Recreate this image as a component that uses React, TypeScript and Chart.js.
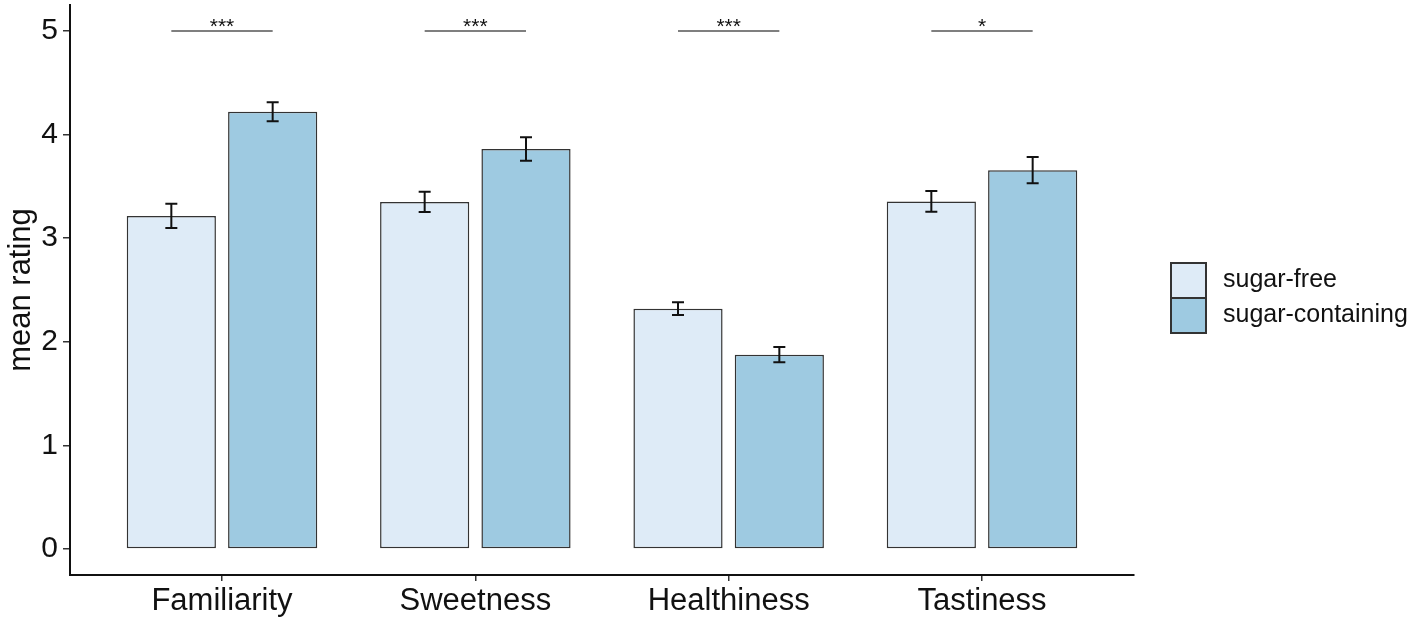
import React, { useEffect, useRef } from 'react';
import { Chart, registerables } from 'chart.js';

Chart.register(...registerables);

const categories = ['Familiarity', 'Sweetness', 'Healthiness', 'Tastiness'];
const categoryPositions = [1, 2, 3, 4];
const seriesLabels = ['sugar-free', 'sugar-containing'];
const seriesColors = ['#deebf7', '#9ecae1'];
const sugarFree = [3.215, 3.35, 2.32, 3.355];
const sugarFreeSE = [0.117, 0.098, 0.061, 0.101];
const sugarContaining = [4.22, 3.86, 1.876, 3.656];
const sugarContainingSE = [0.092, 0.114, 0.074, 0.127];
const significance = ['***', '***', '***', '*'];
const significanceLevel = 5;
const yTicks = [0, 1, 2, 3, 4, 5];

const FONT = '"Liberation Sans", Arial, Helvetica, sans-serif';
const TEXT = '#111111';

// error bars, significance brackets and the legend (ggplot-style keys)
const overlayPlugin = {
  id: 'overlay',
  afterDatasetsDraw(chart: any) {
    const { ctx } = chart;
    const y = chart.scales.y;
    const means = [sugarFree, sugarContaining];
    const errors = [sugarFreeSE, sugarContainingSE];
    ctx.save();
    ctx.strokeStyle = TEXT;
    ctx.lineWidth = 2;
    means.forEach((series, di) => {
      const meta = chart.getDatasetMeta(di);
      meta.data.forEach((bar: any, i: number) => {
        const top = y.getPixelForValue(series[i] + errors[di][i]);
        const bottom = y.getPixelForValue(series[i] - errors[di][i]);
        ctx.beginPath();
        ctx.moveTo(bar.x, top);
        ctx.lineTo(bar.x, bottom);
        ctx.moveTo(bar.x - 6, top);
        ctx.lineTo(bar.x + 6, top);
        ctx.moveTo(bar.x - 6, bottom);
        ctx.lineTo(bar.x + 6, bottom);
        ctx.stroke();
      });
    });

    const m0 = chart.getDatasetMeta(0);
    const m1 = chart.getDatasetMeta(1);
    const yp = y.getPixelForValue(significanceLevel);
    significance.forEach((stars, i) => {
      const x1 = m0.data[i].x;
      const x2 = m1.data[i].x;
      ctx.strokeStyle = '#555555';
      ctx.lineWidth = 1.5;
      ctx.beginPath();
      ctx.moveTo(x1, yp);
      ctx.lineTo(x2, yp);
      ctx.stroke();
      ctx.fillStyle = TEXT;
      ctx.font = `21px ${FONT}`;
      ctx.textAlign = 'center';
      ctx.textBaseline = 'alphabetic';
      ctx.fillText(stars, (x1 + x2) / 2, yp + 2.5);
    });
    ctx.restore();
  },
  afterDraw(chart: any) {
    const { ctx } = chart;
    const left = chart.chartArea.right + 37;
    const size = 35;
    const top = (chart.chartArea.top + chart.chartArea.bottom) / 2 - size + 8;
    ctx.save();
    seriesLabels.forEach((label, i) => {
      const by = top + i * size;
      ctx.fillStyle = seriesColors[i];
      ctx.fillRect(left, by, size, size);
      ctx.strokeStyle = '#333333';
      ctx.lineWidth = 2;
      ctx.strokeRect(left, by, size, size);
      ctx.fillStyle = TEXT;
      ctx.font = `25px ${FONT}`;
      ctx.textAlign = 'left';
      ctx.textBaseline = 'middle';
      ctx.fillText(label, left + size + 17, by + size / 2);
    });
    ctx.restore();
  },
};

const BarChart: React.FC = () => {
  const canvasRef = useRef<HTMLCanvasElement>(null);

  useEffect(() => {
    if (!canvasRef.current) return;
    const makeData = (values: number[]) => categoryPositions.map((x, i) => ({ x, y: values[i] }));
    const barStyle = {
      borderColor: '#333333',
      borderWidth: 1.5,
      borderSkipped: false,
      categoryPercentage: 0.8,
      barPercentage: 0.88,
    };

    const chart = new Chart(canvasRef.current, {
      type: 'bar',
      data: {
        datasets: [
          { label: seriesLabels[0], data: makeData(sugarFree), backgroundColor: seriesColors[0], ...barStyle },
          { label: seriesLabels[1], data: makeData(sugarContaining), backgroundColor: seriesColors[1], ...barStyle },
        ],
      } as any,
      options: {
        responsive: true,
        maintainAspectRatio: false,
        animation: false,
        layout: { padding: { top: 5, right: 283, left: 0, bottom: 0 } },
        scales: {
          x: {
            type: 'linear',
            min: 0.4,
            max: 4.6,
            offset: false,
            afterBuildTicks: (s: any) => { s.ticks = categoryPositions.map(v => ({ value: v })); },
            afterFit: (s: any) => { s.height = 46; s.paddingLeft = 0; s.paddingRight = 0; },
            ticks: {
              callback: (v: any) => categories[categoryPositions.indexOf(Number(v))] ?? '',
              color: TEXT,
              font: { family: FONT, size: 31 },
              padding: 2,
              autoSkip: false,
              maxRotation: 0,
            },
            grid: { display: true, offset: false, drawOnChartArea: false, drawTicks: true, tickLength: 6, color: '#333333', lineWidth: 1.5 },
            border: { display: true, color: TEXT, width: 2 },
          },
          y: {
            type: 'linear',
            min: -0.25,
            max: 5.25,
            afterBuildTicks: (s: any) => { s.ticks = yTicks.map(v => ({ value: v })); },
            afterFit: (s: any) => { s.width = 70; s.paddingTop = 0; s.paddingBottom = 0; },
            ticks: { color: TEXT, font: { family: FONT, size: 30 }, padding: 5 },
            grid: { display: true, drawOnChartArea: false, drawTicks: true, tickLength: 7, color: '#333333', lineWidth: 1.5 },
            border: { display: true, color: TEXT, width: 2 },
            title: { display: true, text: 'mean rating', color: TEXT, font: { family: FONT, size: 31 }, padding: { top: 3, bottom: 0 } },
          },
        },
        plugins: {
          legend: { display: false },
          tooltip: { enabled: false },
        },
      } as any,
      plugins: [overlayPlugin],
    });

    return () => chart.destroy();
  }, []);

  return <canvas ref={canvasRef} />;
};

export default function App() {
  return (
    <div style={{ position: 'absolute', left: 0, top: 0, width: 1417, height: 621, background: '#ffffff' }}>
      <BarChart />
    </div>
  );
}
